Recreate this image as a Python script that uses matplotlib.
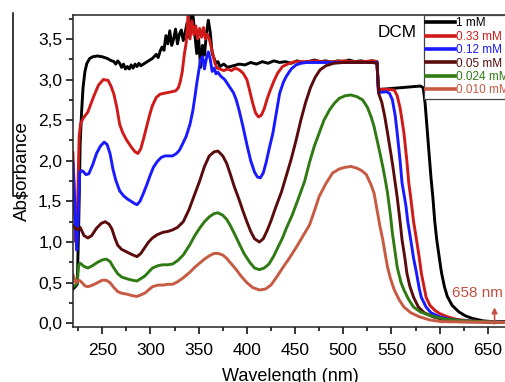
import matplotlib
matplotlib.use('Agg')
import matplotlib.pyplot as plt
from matplotlib.ticker import MultipleLocator, FuncFormatter
from matplotlib.lines import Line2D

# 1 mM
wl_black = [219.5, 222, 224, 225.5, 227, 228.5, 230, 232, 234, 237, 240, 245, 250, 255, 258, 262, 264, 266,
            268, 270, 272, 274, 276, 278, 280, 282, 284, 286, 288, 290, 294, 298, 302, 306, 308, 310, 312,
            314, 316, 318, 320, 322, 324, 326, 328, 330, 332, 334, 336, 338, 340, 342, 344, 346, 348, 350,
            352, 354, 356, 358, 360, 362, 364, 366, 368, 370, 372, 376, 380, 386, 392, 398, 404, 410, 416,
            422, 428, 434, 440, 446, 452, 458, 464, 470, 476, 482, 488, 494, 500, 506, 512, 518, 524, 530,
            535, 536.5, 540, 550, 560, 570, 580, 583, 585, 587, 589, 591, 593, 595, 597, 600, 602, 605, 608,
            613, 620, 627, 634, 645, 655, 672]
abs_black = [0.42, 0.45, 0.48, 1.2, 2.2, 2.6, 2.9, 3.1, 3.2, 3.26, 3.28, 3.29, 3.28, 3.26, 3.24, 3.22, 3.19, 3.23,
             3.2, 3.15, 3.19, 3.13, 3.16, 3.13, 3.18, 3.14, 3.19, 3.16, 3.2, 3.17, 3.2, 3.23, 3.26, 3.31, 3.27,
             3.35, 3.4, 3.36, 3.54, 3.44, 3.6, 3.42, 3.5, 3.62, 3.44, 3.56, 3.61, 3.48, 3.58, 3.7, 3.52, 3.8,
             3.8, 3.56, 3.32, 3.5, 3.15, 3.42, 3.3, 3.56, 3.73, 3.58, 3.32, 3.26, 3.2, 3.22, 3.16, 3.19, 3.15,
             3.17, 3.19, 3.18, 3.21, 3.19, 3.22, 3.2, 3.23, 3.21, 3.22, 3.2, 3.23, 3.21, 3.22, 3.24, 3.22, 3.23,
             3.21, 3.23, 3.22, 3.24, 3.22, 3.23, 3.22, 3.23, 3.22, 2.88, 2.88, 2.89, 2.9, 2.91, 2.92, 2.9, 2.7,
             2.4, 2.1, 1.8, 1.55, 1.25, 1.03, 0.78, 0.62, 0.45, 0.33, 0.22, 0.14, 0.09, 0.06, 0.03, 0.02, 0.02]

# 0.33 mM
wl_red = [219.5, 221, 222.5, 224, 226, 227.5, 230, 235, 241, 246, 251, 256, 259, 262, 265, 268, 271, 275, 280,
          284, 287, 290, 293, 296, 299, 302, 306, 310, 314, 318, 322, 326, 329, 331, 333, 335, 337, 339, 341,
          343, 345, 347, 349, 351, 353, 355, 357, 359, 361, 363, 365, 367, 369, 372, 376, 380, 384, 388, 392,
          396, 400, 403, 406, 409, 412, 415, 418, 421, 424, 428, 432, 437, 444, 450, 460, 470, 480, 490, 500,
          510, 520, 530, 535, 536.5, 545, 553, 556, 559, 561, 563, 566, 568, 570, 573, 576, 579, 581, 584, 586,
          590, 595, 600, 608, 617, 630, 645, 672]
abs_red = [2.1, 1.6, 1.0, 1.3, 2.3, 2.46, 2.52, 2.6, 2.79, 2.93, 3.0, 2.99, 2.92, 2.82, 2.66, 2.45, 2.35, 2.26,
           2.17, 2.11, 2.09, 2.15, 2.28, 2.42, 2.56, 2.68, 2.78, 2.82, 2.83, 2.84, 2.85, 2.86, 2.9, 2.98, 3.1,
           3.3, 3.45, 3.8, 3.5, 3.72, 3.55, 3.66, 3.5, 3.63, 3.52, 3.64, 3.5, 3.56, 3.5, 3.4, 3.3, 3.2, 3.14,
           3.13, 3.11, 3.13, 3.11, 3.14, 3.12, 3.08, 3.0, 2.86, 2.71, 2.59, 2.54, 2.56, 2.64, 2.76, 2.86, 2.98,
           3.08, 3.16, 3.2, 3.22, 3.22, 3.23, 3.22, 3.22, 3.23, 3.22, 3.22, 3.23, 3.22, 2.88, 2.88, 2.87, 2.8,
           2.65, 2.5, 2.34, 2.0, 1.73, 1.55, 1.25, 1.03, 0.8, 0.62, 0.44, 0.32, 0.22, 0.16, 0.12, 0.08, 0.05,
           0.03, 0.02, 0.01]

# 0.12 mM
wl_blue = [219.5, 221, 222.5, 223.5, 225, 226.5, 228, 230, 233, 236, 240, 244, 248, 252, 255, 258, 261, 264,
           268, 272, 276, 280, 284, 286, 289, 292, 296, 299, 303, 307, 311, 315, 319, 323, 327, 330, 333, 337,
           341, 344, 346, 348, 350, 352, 354, 356, 358, 360, 362, 364, 366, 368, 370, 373, 377, 382, 386, 389,
           392, 396, 400, 404, 408, 411, 414, 417, 420, 423, 427, 431, 434, 438, 441, 446, 451, 456, 462, 475,
           490, 505, 520, 535, 536.5, 545, 548, 551, 554, 556, 559, 561, 565, 567, 570, 573, 576, 579, 581, 586,
           591, 600, 610, 625, 645, 672]
abs_blue = [1.97, 1.6, 1.1, 0.9, 1.3, 1.85, 1.88, 1.87, 1.83, 1.84, 1.95, 2.09, 2.18, 2.23, 2.2, 2.09, 1.9,
            1.76, 1.63, 1.57, 1.53, 1.5, 1.47, 1.46, 1.5, 1.58, 1.7, 1.8, 1.92, 1.99, 2.04, 2.06, 2.06, 2.06,
            2.09, 2.13, 2.2, 2.3, 2.45, 2.62, 2.78, 2.95, 3.1, 3.25, 3.28, 3.13, 3.26, 3.34, 3.25, 3.1, 3.14,
            3.07, 3.09, 3.04, 3.0, 2.91, 2.84, 2.75, 2.62, 2.42, 2.2, 2.0, 1.86, 1.8, 1.79, 1.85, 1.98, 2.14,
            2.34, 2.62, 2.83, 2.97, 3.04, 3.13, 3.18, 3.2, 3.21, 3.21, 3.21, 3.21, 3.21, 3.21, 2.84, 2.85, 2.83,
            2.75, 2.55, 2.34, 2.0, 1.73, 1.45, 1.25, 1.03, 0.8, 0.62, 0.42, 0.32, 0.2, 0.13, 0.08, 0.05, 0.03,
            0.02, 0.01]

# 0.05 mM
wl_brown = [219.5, 224, 227, 231, 235, 239, 244, 249, 253, 257, 260, 263, 266, 270, 275, 280, 286, 290, 294,
            298, 302, 307, 313, 318, 323, 328, 334, 340, 345, 351, 356, 361, 366, 370, 375, 379, 383, 387, 392,
            396, 400, 404, 408, 413, 417, 421, 425, 430, 436, 441, 446, 451, 456, 461, 466, 471, 476, 482, 490,
            500, 510, 520, 530, 535, 537, 540, 543, 546, 549, 551, 554, 556, 559, 561, 564, 566, 569, 573, 578,
            584, 593, 602, 620, 672]
abs_brown = [1.2, 1.15, 1.18, 1.08, 1.05, 1.08, 1.17, 1.23, 1.25, 1.22, 1.16, 1.05, 0.96, 0.91, 0.88, 0.85,
             0.82, 0.86, 0.93, 1.0, 1.05, 1.09, 1.12, 1.13, 1.15, 1.18, 1.25, 1.4, 1.56, 1.75, 1.93, 2.06, 2.11,
             2.12, 2.06, 1.97, 1.83, 1.68, 1.52, 1.38, 1.25, 1.13, 1.04, 1.0, 1.04, 1.14, 1.26, 1.43, 1.62, 1.82,
             2.02, 2.25, 2.5, 2.72, 2.9, 3.03, 3.12, 3.17, 3.2, 3.21, 3.21, 3.21, 3.21, 3.2, 2.82, 2.72, 2.55,
             2.34, 2.12, 1.97, 1.72, 1.55, 1.25, 1.03, 0.8, 0.62, 0.46, 0.32, 0.2, 0.13, 0.08, 0.05, 0.02, 0.01]

# 0.024 mM
wl_green = [219.5, 222, 224, 225.5, 227, 231, 235, 240, 245, 250, 254, 258, 262, 266, 270, 275, 281, 286, 290,
            294, 298, 302, 308, 313, 318, 323, 328, 334, 341, 346, 351, 356, 361, 366, 370, 375, 379, 383, 388,
            392, 397, 403, 408, 413, 418, 423, 428, 432, 437, 441, 447, 453, 460, 465, 470, 475, 480, 486, 491,
            496, 502, 508, 514, 520, 525, 529, 532, 535, 538, 541, 544, 546, 549, 551, 554, 556, 560, 563, 568,
            573, 580, 589, 598, 607, 625, 645, 672]
abs_green = [0.45, 0.47, 0.5, 0.72, 0.74, 0.7, 0.68, 0.71, 0.75, 0.78, 0.79, 0.76, 0.68, 0.61, 0.57, 0.55,
             0.53, 0.52, 0.55, 0.58, 0.63, 0.68, 0.71, 0.72, 0.72, 0.73, 0.77, 0.84, 0.97, 1.08, 1.17, 1.25,
             1.31, 1.35, 1.36, 1.33, 1.28, 1.2, 1.08, 0.98, 0.86, 0.75, 0.68, 0.66, 0.68, 0.73, 0.83, 0.93,
             1.05, 1.17, 1.33, 1.52, 1.75, 1.98, 2.18, 2.34, 2.5, 2.63, 2.71, 2.77, 2.8, 2.81, 2.79, 2.75, 2.66,
             2.54, 2.42, 2.26, 2.1, 1.93, 1.74, 1.6, 1.33, 1.11, 0.86, 0.69, 0.5, 0.41, 0.29, 0.2, 0.14, 0.1,
             0.07, 0.05, 0.03, 0.02, 0.01]

# 0.010 mM
wl_orange = [219.5, 221, 222.5, 224, 226, 229, 232, 235, 240, 245, 250, 254, 258, 262, 266, 270, 275, 281, 286,
             290, 294, 298, 302, 308, 313, 318, 323, 328, 334, 341, 346, 351, 356, 361, 366, 370, 375, 379, 384,
             389, 394, 400, 406, 413, 419, 425, 431, 437, 444, 451, 458, 465, 470, 475, 482, 489, 496, 502, 508,
             514, 519, 524, 529, 532, 535, 538, 541, 544, 546, 549, 553, 558, 563, 570, 579, 590, 602, 672]
abs_orange = [0.6, 0.55, 0.5, 0.52, 0.53, 0.5, 0.46, 0.45, 0.47, 0.5, 0.53, 0.53, 0.5, 0.44, 0.39, 0.37, 0.36,
              0.34, 0.33, 0.35, 0.37, 0.41, 0.45, 0.47, 0.47, 0.48, 0.48, 0.51, 0.56, 0.63, 0.69, 0.74, 0.79,
              0.83, 0.86, 0.86, 0.84, 0.8, 0.73, 0.66, 0.58, 0.5, 0.44, 0.41, 0.42, 0.47, 0.57, 0.68, 0.8, 0.93,
              1.07, 1.21, 1.38, 1.56, 1.72, 1.85, 1.9, 1.92, 1.93, 1.91, 1.88, 1.83, 1.7, 1.6, 1.4, 1.2, 1.03,
              0.82, 0.69, 0.55, 0.41, 0.29, 0.2, 0.13, 0.08, 0.04, 0.02, 0.01]

labels = ['1 mM', '0.33 mM', '0.12 mM', '0.05 mM', '0.024 mM', '0.010 mM']
colors = ['#000000', '#d01a1a', '#1a1aff', '#5a0c0c', '#2f7a12', '#c65a42']


def main():
    plt.rcParams['font.family'] = ['Liberation Sans', 'DejaVu Sans']
    fig = plt.figure(figsize=(5.05, 3.82), dpi=100)
    ax = fig.add_axes([0.144, 0.1448, 0.862, 0.815])

    series = [(wl_black, abs_black), (wl_red, abs_red), (wl_blue, abs_blue),
              (wl_brown, abs_brown), (wl_green, abs_green), (wl_orange, abs_orange)]
    for (x, y), c, lab in zip(series, colors, labels):
        ax.plot(x, y, color=c, lw=2.1, label=lab, solid_joinstyle='round')

    ax.set_xlim(219.3, 671)
    ax.set_ylim(-0.042, 3.79)
    ax.xaxis.set_major_locator(MultipleLocator(50))
    ax.xaxis.set_minor_locator(MultipleLocator(25))
    ax.yaxis.set_major_locator(MultipleLocator(0.5))
    ax.yaxis.set_minor_locator(MultipleLocator(0.25))
    ax.yaxis.set_major_formatter(FuncFormatter(lambda v, p: f'{v:.1f}'.replace('.', ',')))
    ax.tick_params(which='major', direction='out', length=5, width=1.1, labelsize=12.5, pad=2.5)
    ax.tick_params(which='minor', direction='out', length=3, width=1.1)
    ax.tick_params(axis='x', which='major', pad=7)
    ax.spines['right'].set_visible(False)
    for s in ['left', 'bottom', 'top']:
        ax.spines[s].set_linewidth(1.1)
        ax.spines[s].set_color('#222222')

    ax.set_xlabel('Wavelength (nm)', fontsize=13, labelpad=7)
    ax.set_ylabel('Absorbance', fontsize=13.5, labelpad=5)

    ax.text(575.7, 3.575, 'DCM', fontsize=12.3, ha='right', va='center')

    red2 = '#c0503f'
    ax.annotate('', xy=(657, 0.23), xytext=(657, -0.042),
                arrowprops=dict(arrowstyle='-|>', color=red2, lw=1.2, mutation_scale=8))
    ax.text(612.7, 0.32, '658 nm', fontsize=11, color=red2, ha='left', va='baseline', clip_on=False)

    leg = ax.legend(loc='upper left', bbox_to_anchor=(424 / 505, 1 - 15 / 382), bbox_transform=fig.transFigure,
                    fontsize=8.5, frameon=True, fancybox=False, edgecolor='#444444', framealpha=1,
                    borderpad=0.2, handlelength=2.4, handletextpad=0.1, labelspacing=0.12, borderaxespad=0)
    leg.get_frame().set_linewidth(0.9)
    for t, ln in zip(leg.get_texts(), leg.get_lines()):
        t.set_color(ln.get_color())
        ln.set_linewidth(2.6)

    # stray bracket at the left edge of the original figure
    fig.add_artist(Line2D([0.0248, 0.0248, 0.053], [0.966, 0.487, 0.487], color='black', lw=1.1))

    fig.savefig('out.png', dpi=100)


if __name__ == "__main__":
    main()
